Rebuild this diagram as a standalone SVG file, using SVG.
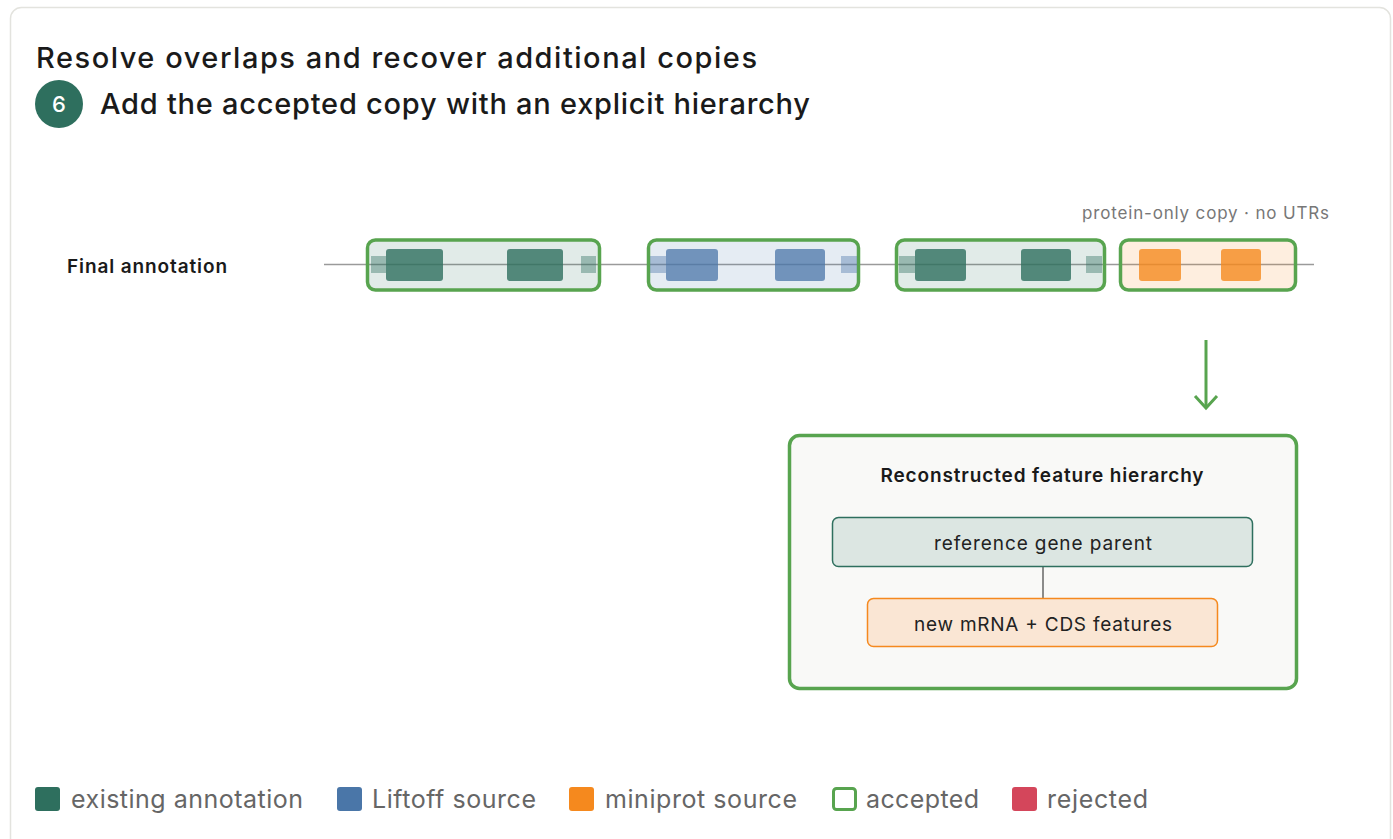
<svg xmlns="http://www.w3.org/2000/svg" width="1393" height="839" viewBox="0 0 1393 839">
  <style>
    text { font-family: Inter, "Noto Sans", "Liberation Sans", sans-serif; }
    .title { font-size: 29px; font-weight: 500; fill: #1a1a1a; }
    .rowlabel { font-size: 19px; font-weight: 600; fill: #1a1a1a; }
    .note { font-size: 17px; fill: #777777; }
    .accepted { stroke: #58a44f; stroke-width: 3.5; }
    .exon-g { fill: #2e6f5e; fill-opacity: 0.8; }
    .utr-g { fill: #2e6f5e; fill-opacity: 0.4; }
    .exon-b { fill: #4a76a8; fill-opacity: 0.75; }
    .utr-b { fill: #4a76a8; fill-opacity: 0.4; }
    .exon-o { fill: #f5891e; fill-opacity: 0.8; }
    .legend { font-size: 25px; fill: #666666; }
    .boxlabel { font-size: 19px; fill: #222222; text-anchor: middle; }
  </style>

  <rect width="1393" height="839" fill="#ffffff"/>
  <!-- card -->
  <rect x="10.5" y="7.5" width="1380" height="860" rx="11" fill="#ffffff" stroke="#e3e3de" stroke-width="1.5"/>

  <!-- headings -->
  <text class="title" x="36" y="68" textLength="721" lengthAdjust="spacing">Resolve overlaps and recover additional copies</text>
  <g id="step-badge">
    <circle cx="59" cy="104" r="24" fill="#2e6f5e"/>
    <text x="59" y="112" font-size="22" font-weight="500" fill="#ffffff" text-anchor="middle">6</text>
  </g>
  <text class="title" x="100" y="114" textLength="710" lengthAdjust="spacing">Add the accepted copy with an explicit hierarchy</text>

  <!-- annotation track -->
  <text class="rowlabel" x="67" y="273" textLength="160" lengthAdjust="spacing">Final annotation</text>
  <line x1="324" y1="264.5" x2="1314" y2="264.5" stroke="#9a9a9a" stroke-width="1.5"/>
  <text class="note" x="1082" y="219" textLength="247" lengthAdjust="spacing">protein-only copy · no UTRs</text>

  <g id="copy-1">
    <rect class="accepted" x="367.5" y="240" width="232" height="50" rx="8" fill="#2e6f5e" fill-opacity="0.14"/>
    <rect class="utr-g" x="371" y="256" width="15" height="17"/>
    <rect class="utr-g" x="581" y="256" width="15" height="17"/>
    <rect class="exon-g" x="386" y="249" width="57" height="32" rx="3"/>
    <rect class="exon-g" x="507" y="249" width="56" height="32" rx="3"/>
  </g>
  <g id="copy-2">
    <rect class="accepted" x="648.5" y="240" width="210" height="50" rx="8" fill="#4a76a8" fill-opacity="0.14"/>
    <rect class="utr-b" x="650" y="256" width="16" height="17"/>
    <rect class="utr-b" x="841" y="256" width="16" height="17"/>
    <rect class="exon-b" x="666" y="249" width="52" height="32" rx="3"/>
    <rect class="exon-b" x="775" y="249" width="50" height="32" rx="3"/>
  </g>
  <g id="copy-3">
    <rect class="accepted" x="896.5" y="240" width="208" height="50" rx="8" fill="#2e6f5e" fill-opacity="0.14"/>
    <rect class="utr-g" x="899" y="256" width="16" height="17"/>
    <rect class="utr-g" x="1086" y="256" width="16" height="17"/>
    <rect class="exon-g" x="915" y="249" width="51" height="32" rx="3"/>
    <rect class="exon-g" x="1021" y="249" width="50" height="32" rx="3"/>
  </g>
  <g id="copy-4">
    <rect class="accepted" x="1120.5" y="240" width="175" height="50" rx="8" fill="#f5891e" fill-opacity="0.14"/>
    <rect class="exon-o" x="1139" y="249" width="42" height="32" rx="3"/>
    <rect class="exon-o" x="1221" y="249" width="40" height="32" rx="3"/>
  </g>

  <g id="hierarchy">
    <rect class="accepted" x="789.5" y="435.5" width="507" height="253" rx="10" fill="#f9f9f7"/>
    <text x="1042" y="482" font-size="19" font-weight="600" fill="#1a1a1a" text-anchor="middle" textLength="323" lengthAdjust="spacing">Reconstructed feature hierarchy</text>
  </g>

  <g id="connectors">
    <line x1="1206" y1="340" x2="1206" y2="407" stroke="#58a44f" stroke-width="3"/>
    <path d="M1195,396 L1206,408 L1217,396" fill="none" stroke="#58a44f" stroke-width="3"/>
    <line x1="1043" y1="566" x2="1043" y2="598" stroke="#666666" stroke-width="1.5"/>
  </g>

  <g id="gene-parent">
    <rect x="832.5" y="517.5" width="420" height="49" rx="6" fill="#dce6e2" stroke="#2e6f5e" stroke-width="1.5"/>
    <text class="boxlabel" x="1043" y="550" textLength="218" lengthAdjust="spacing">reference gene parent</text>
  </g>
  <g id="new-features">
    <rect x="867.5" y="598.5" width="350" height="48" rx="6" fill="#fae6d4" stroke="#f5891e" stroke-width="1.5"/>
    <text class="boxlabel" x="1043" y="631" textLength="258" lengthAdjust="spacing">new mRNA + CDS features</text>
  </g>

  <!-- legend -->
  <g id="legend">
    <rect x="35" y="787" width="25" height="24" rx="3" fill="#2e6f5e"/>
    <text class="legend" x="71" y="808" textLength="232" lengthAdjust="spacing">existing annotation</text>
    <rect x="337" y="787" width="25" height="24" rx="3" fill="#4a76a8"/>
    <text class="legend" x="372" y="808" textLength="164" lengthAdjust="spacing">Liftoff source</text>
    <rect x="569" y="787" width="25" height="24" rx="3" fill="#f5891e"/>
    <text class="legend" x="605" y="808" textLength="192" lengthAdjust="spacing">miniprot source</text>
    <rect x="833.5" y="788.5" width="22" height="21" rx="3" fill="#ffffff" stroke="#58a44f" stroke-width="3"/>
    <text class="legend" x="866" y="808" textLength="113" lengthAdjust="spacing">accepted</text>
    <rect x="1012" y="787" width="25" height="24" rx="3" fill="#d4465b"/>
    <text class="legend" x="1047" y="808" textLength="101" lengthAdjust="spacing">rejected</text>
  </g>
</svg>
